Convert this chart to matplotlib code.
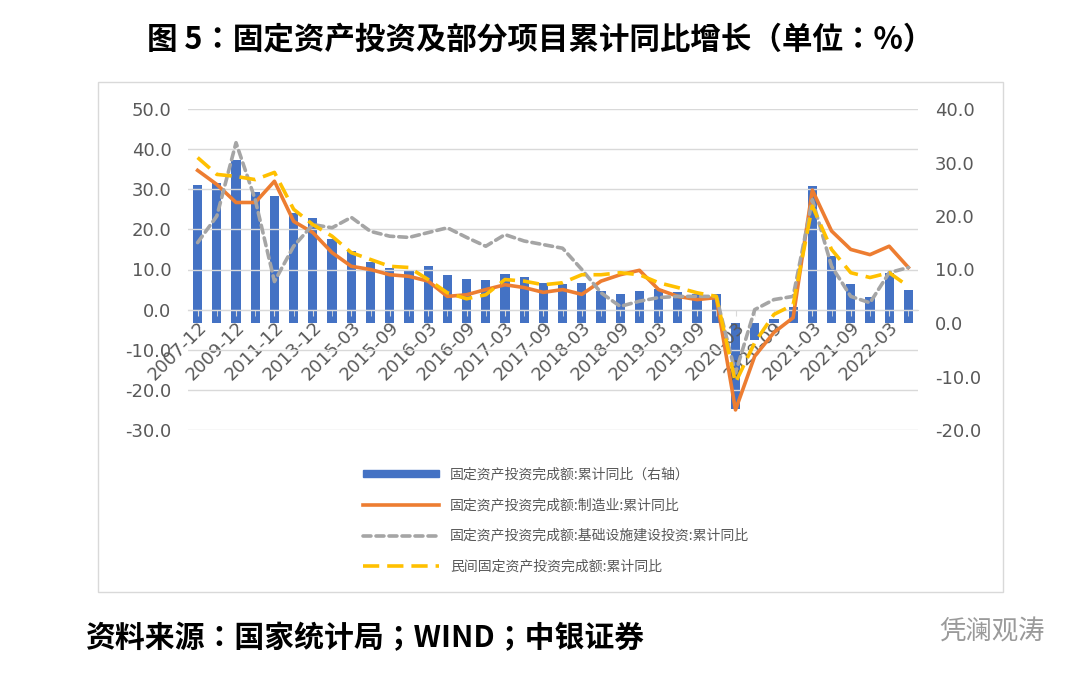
import matplotlib
matplotlib.use("Agg")
import matplotlib.pyplot as plt
from matplotlib.patches import Rectangle
import numpy as np

plt.rcParams['font.family'] = ['Noto Sans CJK JP', 'Noto Sans CJK SC', 'Noto Sans CJK TC',
                               'Noto Sans CJK KR', 'DejaVu Sans']

categories = ["2007-12","2008-12","2009-12","2010-12","2011-12","2012-12","2013-12","2014-12"] + \
    [f"{y}-{m}" for y in range(2015, 2023) for m in ("03","06","09","12")][:30]
fai = [25.8,26.1,30.5,24.5,23.8,20.6,19.6,15.7,13.5,11.4,10.3,10.0,10.7,9.0,8.2,8.1,9.2,8.6,7.5,7.2,
       7.5,6.0,5.4,5.9,6.3,5.8,5.4,5.4,-16.1,-3.1,0.8,2.9,25.6,12.6,7.3,4.9,9.3,6.1]
manu = [34.7,31.2,26.7,26.7,32.0,22.0,19.2,14.2,10.8,10.0,8.7,8.3,7.1,3.3,3.7,5.0,6.2,5.5,4.3,5.0,
        3.8,7.1,8.7,9.8,5.0,3.3,2.5,3.0,-25.0,-11.6,-5.7,-2.0,29.8,19.6,15.0,13.7,15.8,10.5]
infra = [16.7,23.3,41.6,27.4,7.0,15.8,21.2,20.4,23.0,19.5,18.3,18.0,19.2,20.4,18.0,15.8,18.7,17.1,16.2,15.3,
         10.0,4.2,0.8,2.1,3.0,3.3,3.3,3.3,-15.8,0.0,2.5,3.3,27.4,10.8,3.3,1.7,9.2,10.5]
private = [37.9,33.7,33.2,32.4,34.2,25.0,21.2,18.3,14.2,12.5,10.8,10.5,7.5,4.2,2.7,3.7,7.5,7.1,6.2,6.7,
           8.7,8.7,9.2,8.7,6.7,5.5,4.2,3.3,-18.2,-8.2,-1.2,1.2,25.8,15.0,9.2,8.0,9.2,5.8]
names = ["固定资产投资完成额:累计同比（右轴）","固定资产投资完成额:制造业:累计同比",
         "固定资产投资完成额:基础设施建设投资:累计同比","民间固定资产投资完成额:累计同比"]

fig = plt.figure(figsize=(10.8, 6.8), dpi=100)
fig.patches.append(Rectangle((98/1080, 88/680), 905/1080, 510/680, transform=fig.transFigure,
                             fill=False, edgecolor='#d9d9d9', lw=1))
ax = fig.add_axes([188/1080, 250/680, 730/1080, 321/680])
ax2 = ax.twinx()
x = np.arange(len(categories))

ax.set_zorder(ax2.get_zorder() + 1); ax.patch.set_visible(False)
ax2.bar(x, fai, width=0.48, color='#4472c4', zorder=2)
ax.plot(x, manu, color='#ed7d31', lw=2.6, zorder=3)
ax.plot(x, infra, color='#a5a5a5', lw=2.6, dashes=(2.2, 1.4), dash_capstyle='round', zorder=4)
ax.plot(x, private, color='#ffc000', lw=2.6, dashes=(4.5, 2.2), zorder=5)

ax.set_ylim(-30, 50); ax2.set_ylim(-20, 40)
ax.set_xlim(-0.5, len(x) - 0.5)
ax.set_yticks(np.arange(-30, 51, 10)); ax2.set_yticks(np.arange(-20, 41, 10))
ax.set_yticklabels([f"{v:.1f}" for v in np.arange(-30, 51, 10)], fontfamily='DejaVu Sans')
ax2.set_yticklabels([f"{v:.1f}" for v in np.arange(-20, 41, 10)], fontfamily='DejaVu Sans')
ax.yaxis.grid(True, color='#d9d9d9', lw=1); ax.set_axisbelow(True)
for a in (ax, ax2):
    for s in a.spines.values(): s.set_visible(False)
    a.tick_params(axis='y', length=0, labelsize=13, labelcolor='#595959', pad=12)
ax.spines['bottom'].set_visible(True); ax.spines['bottom'].set_position(('data', 0))
ax.spines['bottom'].set_color('#d9d9d9')
ax.set_xticks(x[::2])
ax.set_xticklabels(categories[::2], rotation=45, ha='right', rotation_mode='anchor',
                   fontsize=13, color='#595959', fontfamily='DejaVu Sans')
ax.set_xticks(x, minor=True)
ax.tick_params(axis='x', which='both', length=4, color='#d9d9d9', pad=2)
ax2.tick_params(axis='x', length=0)

from matplotlib.lines import Line2D
from matplotlib.patches import Patch
handles = [Patch(color='#4472c4'),
           Line2D([], [], color='#ed7d31', lw=2.6),
           Line2D([], [], color='#a5a5a5', lw=2.6, dashes=(2.2, 1.4), dash_capstyle='round'),
           Line2D([], [], color='#ffc000', lw=2.6, dashes=(4.5, 2.2))]
fig.legend(handles, names, loc='upper left', bbox_to_anchor=(350/1080, 1 - 455/680), frameon=False,
           fontsize=10, labelcolor='#595959', handlelength=5.5, handleheight=0.35, labelspacing=1.2)

fig.text(0.5, 1 - 40/680, "图 5：固定资产投资及部分项目累计同比增长（单位：%）", ha='center', va='center',
         fontsize=22, fontweight='bold')
fig.text(85/1080, 1 - 638/680, "资料来源：国家统计局；WIND；中银证券", ha='left', va='center',
         fontsize=21.5, fontweight='bold')
fig.text(1045/1080, 1 - 632/680, "凭澜观涛", ha='right', va='center', fontsize=19, color='#9a9a9a')
fig.savefig("out.png", dpi=100)
